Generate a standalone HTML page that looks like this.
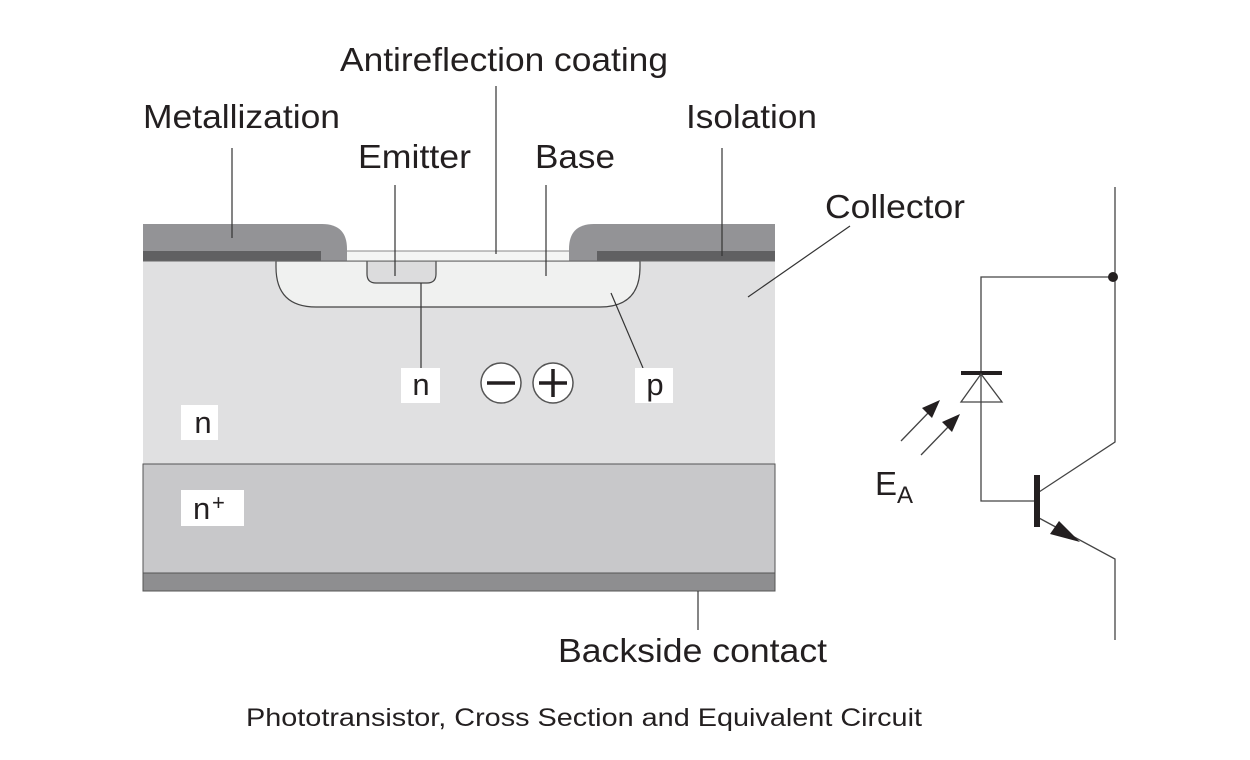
<!DOCTYPE html>
<html><head><meta charset="utf-8"><style>
html,body{margin:0;padding:0;background:#fff;width:1250px;height:760px;overflow:hidden}
svg text{font-family:"Liberation Sans",sans-serif;fill:#231f20}
</style></head><body>
<svg width="1250" height="760" viewBox="0 0 1250 760">
<g>
<rect x="143" y="261" width="632" height="203" fill="#e0e0e1"/>
<rect x="143" y="464" width="632" height="109" fill="#c8c8ca" stroke="#555" stroke-width="1"/>
<rect x="143" y="573" width="632" height="18" fill="#8e8e90" stroke="#555" stroke-width="1"/>
<path d="M276 261 L640 261 L640 267 Q640 307 600 307 L316 307 Q276 307 276 267 Z" fill="#f0f1f0" stroke="#444" stroke-width="1.2"/>
<path d="M367 261 L436 261 L436 274 Q436 283 427 283 L376 283 Q367 283 367 274 Z" fill="#dcdcdd" stroke="#444" stroke-width="1.2"/>
<rect x="340" y="251" width="240" height="10" fill="#f4f5f4" stroke="#888" stroke-width="1"/>
<path d="M143 224 L322 224 Q347 224 347 249 L347 261 L143 261 Z" fill="#939396"/>
<rect x="143" y="251" width="178" height="10" fill="#606062"/>
<path d="M775 224 L594 224 Q569 224 569 249 L569 261 L775 261 Z" fill="#939396"/>
<rect x="597" y="251" width="178" height="10" fill="#606062"/>
<line x1="143" y1="261" x2="775" y2="261" stroke="#666" stroke-width="1"/>
</g>
<g stroke="#333" stroke-width="1.2">
<line x1="232" y1="148" x2="232" y2="238"/>
<line x1="496" y1="86" x2="496" y2="254"/>
<line x1="395" y1="185" x2="395" y2="276"/>
<line x1="546" y1="185" x2="546" y2="276"/>
<line x1="722" y1="148" x2="722" y2="256"/>
<line x1="850" y1="226" x2="748" y2="297"/>
<line x1="421" y1="283" x2="421" y2="368"/>
<line x1="611" y1="293" x2="643" y2="368"/>
<line x1="698" y1="591" x2="698" y2="630"/>
</g>
<g>
<rect x="401" y="368" width="39" height="35" fill="#fff"/><text x="421" y="395" font-size="31" text-anchor="middle">n</text>
<rect x="635" y="368" width="38" height="35" fill="#fff"/><text x="655" y="395" font-size="31" text-anchor="middle">p</text>
<rect x="181" y="405" width="37" height="35" fill="#fff"/><text x="203" y="433" font-size="31" text-anchor="middle">n</text>
<rect x="181" y="490" width="63" height="36" fill="#fff"/><text x="193" y="519" font-size="31">n</text><text x="212" y="510" font-size="22">+</text>
<g><circle cx="501" cy="383" r="20" fill="#fff" stroke="#555" stroke-width="1.5"/><line x1="487" y1="383" x2="515" y2="383" stroke="#231f20" stroke-width="3.5"/></g>
<g><circle cx="553" cy="383" r="20" fill="#fff" stroke="#555" stroke-width="1.5"/><line x1="539" y1="383" x2="567" y2="383" stroke="#231f20" stroke-width="3.5"/><line x1="553" y1="369" x2="553" y2="397" stroke="#231f20" stroke-width="3.5"/></g>
</g>
<g>
<text x="340" y="71" font-size="33" textLength="328" lengthAdjust="spacingAndGlyphs">Antireflection coating</text>
<text x="143" y="128" font-size="33" textLength="197" lengthAdjust="spacingAndGlyphs">Metallization</text>
<text x="686" y="128" font-size="33" textLength="131" lengthAdjust="spacingAndGlyphs">Isolation</text>
<text x="358" y="168" font-size="33" textLength="113" lengthAdjust="spacingAndGlyphs">Emitter</text>
<text x="535" y="168" font-size="33" textLength="80" lengthAdjust="spacingAndGlyphs">Base</text>
<text x="825" y="218" font-size="33" textLength="140" lengthAdjust="spacingAndGlyphs">Collector</text>
<text x="558" y="662" font-size="33" textLength="269" lengthAdjust="spacingAndGlyphs">Backside contact</text>
</g>
<g stroke="#444" stroke-width="1.3" fill="none">
<polyline points="1115,187 1115,442 1039,492"/>
<polyline points="1039,518 1115,559 1115,640"/>
<polyline points="1113,277 981,277 981,501 1035,501"/>
<circle cx="1113" cy="277" r="5" fill="#231f20" stroke="none"/>
<line x1="961" y1="373" x2="1002" y2="373" stroke="#231f20" stroke-width="4"/>
<polygon points="981,374 961,402 1002,402"/>
<rect x="1034" y="475" width="6" height="52" fill="#231f20" stroke="none"/>
<polygon points="1080,542 1059,521 1050,534" fill="#231f20" stroke="none"/>
<line x1="901" y1="441" x2="930" y2="411"/>
<polygon points="940,400 922,408 932,418" fill="#231f20" stroke="none"/>
<line x1="921" y1="455" x2="950" y2="425"/>
<polygon points="960,414 942,422 952,432" fill="#231f20" stroke="none"/>
</g>
<text x="875" y="495" font-size="33">E<tspan font-size="24" dy="8">A</tspan></text>
<text x="246" y="726" font-size="25" textLength="676" lengthAdjust="spacingAndGlyphs">Phototransistor, Cross Section and Equivalent Circuit</text>
</svg>
</body></html>
